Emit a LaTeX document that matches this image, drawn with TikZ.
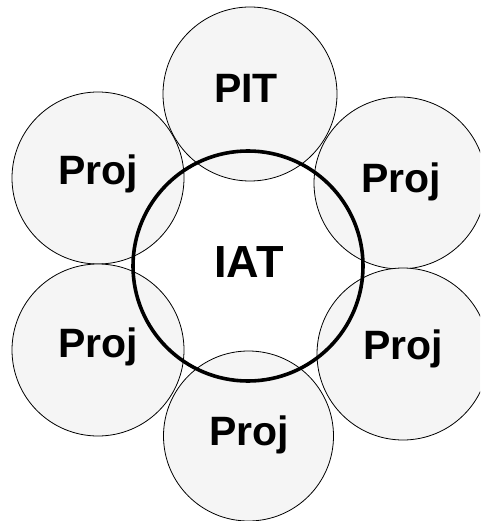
\documentclass[tikz,border=0pt]{standalone}
\usepackage{fontspec}
\setmainfont{Liberation Sans}
\begin{document}
\begin{tikzpicture}[x=1pt,y=-1pt,
  outer/.style={draw=black, line width=0.8pt, fill=gray!8},
  inner/.style={draw=black, line width=3.6pt},
  lab/.style={font=\fontsize{41}{41}\selectfont\bfseries, anchor=base, inner sep=0pt},
  biglab/.style={font=\fontsize{45}{45}\selectfont\bfseries, anchor=base, inner sep=0pt}]
\useasboundingbox (0,0) rectangle (480,521);
\clip (0,0) rectangle (480,521);
\fill[white] (0,0) rectangle (480,521);
\node[outer, circle, minimum size=174pt, inner sep=0pt] (c1) at (250,94) {};
\node[outer, circle, minimum size=172pt, inner sep=0pt] (c2) at (98,178) {};
\node[outer, circle, minimum size=172pt, inner sep=0pt] (c3) at (400,183) {};
\node[outer, circle, minimum size=172pt, inner sep=0pt] (c4) at (98,350) {};
\node[outer, circle, minimum size=172pt, inner sep=0pt] (c5) at (403,354) {};
\node[outer, circle, minimum size=170pt, inner sep=0pt] (c6) at (248.5,436) {};
\node[inner, circle, minimum size=230pt, inner sep=0pt] (iat) at (248,266) {};
\node[lab] (t1) at (246,103) {PIT};
\node[lab] (t2) at (98,185) {Proj};
\node[lab] (t3) at (401,193) {Proj};
\node[lab] (t4) at (98,357) {Proj};
\node[lab] (t5) at (403,359) {Proj};
\node[lab] (t6) at (249,445) {Proj};
\node[biglab] (t0) at (249,277) {IAT};
\end{tikzpicture}
\end{document}
